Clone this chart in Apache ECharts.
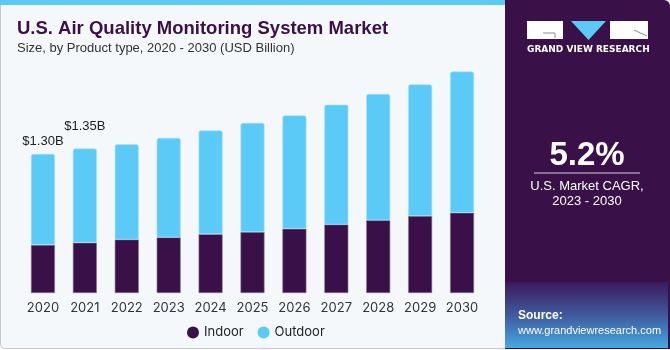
<!DOCTYPE html>
<html>
<head>
<meta charset="utf-8">
<script src="https://cdn.jsdelivr.net/npm/echarts@6/dist/echarts.min.js"></script>
<style>
  html, body { margin: 0; padding: 0; background: #fff; }
  #main { width: 670px; height: 350px; }
</style>
</head>
<body>
<div id="main"></div>
<script>
// data (USD Billion)
var years = ['2020', '2021', '2022', '2023', '2024', '2025', '2026', '2027', '2028', '2029', '2030'];
var indoor = [0.45, 0.47, 0.50, 0.52, 0.55, 0.57, 0.60, 0.64, 0.68, 0.72, 0.75];
var outdoor = [0.85, 0.88, 0.89, 0.93, 0.97, 1.02, 1.06, 1.12, 1.18, 1.23, 1.32];
var totalLabels = ['$1.30B', '$1.35B', '', '', '', '', '', '', '', '', ''];
var labelGap = [6, 16, 0, 0, 0, 0, 0, 0, 0, 0, 0];

var myChart = echarts.init(document.getElementById('main'));

var PURPLE = '#3a1048';
var BLUE = '#5ccaf7';

// outdoor series carries the total labels for the first two bars
var outdoorData = outdoor.map(function (v, i) {
  var item = { value: v };
  if (totalLabels[i]) {
    item.label = {
      show: true,
      position: 'top',
      distance: labelGap[i],
      formatter: totalLabels[i],
      color: '#222',
      fontSize: 13,
      fontFamily: 'Liberation Sans, Arial, sans-serif'
    };
  }
  return item;
});

myChart.setOption({
  backgroundColor: '#fff',
  animation: false,
  graphic: [
    // left panel background + border
    { type: 'rect', shape: { x: 0.5, y: 0.5, width: 520, height: 348, r: 4 }, style: { fill: '#f4f8fb', stroke: '#c8c8c8', lineWidth: 1 }, z: -10 },
    { type: 'rect', shape: { x: 0, y: 0, width: 510, height: 5 }, style: { fill: BLUE }, z: -9 },
    // right panel
    { type: 'rect', shape: { x: 505, y: 0, width: 165, height: 349, r: [0, 6, 0, 0] }, style: { fill: PURPLE }, z: -8 },
    {
      type: 'rect', shape: { x: 505, y: 282, width: 163, height: 66 }, z: -7,
      style: {
        fill: new echarts.graphic.LinearGradient(0, 0, 0, 1, [
          { offset: 0, color: '#3a1a5c' },
          { offset: 0.5, color: '#3f5a9c' },
          { offset: 1, color: '#46a8e2' }
        ])
      }
    },
    // logo
    { type: 'rect', shape: { x: 527, y: 21, width: 36, height: 18 }, style: { fill: '#fff' } },
    { type: 'polyline', shape: { points: [[543, 33], [555, 33], [555, 38]] }, style: { stroke: '#8a8a9a', lineWidth: 1, fill: null } },
    { type: 'polygon', shape: { points: [[571, 21], [606, 21], [588.5, 40]] }, style: { fill: BLUE } },
    { type: 'rect', shape: { x: 610, y: 21, width: 38, height: 18 }, style: { fill: '#fff' } },
    { type: 'line', shape: { x1: 634, y1: 30, x2: 647, y2: 36 }, style: { stroke: '#8a8a9a', lineWidth: 1 } },
    { type: 'text', left: 527, top: 45, style: { text: 'GRAND VIEW RESEARCH', fill: '#fff', font: 'bold 9px "DejaVu Sans", sans-serif' } },
    // CAGR
    { type: 'text', x: 587, y: 156, style: { text: '5.2%', fill: '#fff', font: 'bold 33px "Liberation Sans", Arial, sans-serif', align: 'center', verticalAlign: 'middle' } },
    { type: 'line', shape: { x1: 534, y1: 173, x2: 640, y2: 173 }, style: { stroke: '#d8d0e0', lineWidth: 1 } },
    { type: 'text', x: 587, y: 186, style: { text: 'U.S. Market CAGR,', fill: '#fff', font: '13px "Liberation Sans", Arial, sans-serif', align: 'center', verticalAlign: 'middle' } },
    { type: 'text', x: 587, y: 201, style: { text: '2023 - 2030', fill: '#fff', font: '13px "Liberation Sans", Arial, sans-serif', align: 'center', verticalAlign: 'middle' } },
    // source
    { type: 'text', x: 518, y: 316, style: { text: 'Source:', fill: '#fff', font: 'bold 12px "Liberation Sans", Arial, sans-serif', verticalAlign: 'middle' } },
    { type: 'text', x: 518, y: 331, style: { text: 'www.grandviewresearch.com', fill: '#fff', font: '11px "Liberation Sans", Arial, sans-serif', verticalAlign: 'middle' } },
    // title
    { type: 'text', x: 17, y: 29, style: { text: 'U.S. Air Quality Monitoring System Market', fill: PURPLE, font: 'bold 18.5px "Liberation Sans", Arial, sans-serif', verticalAlign: 'middle' } },
    { type: 'text', x: 17, y: 48, style: { text: 'Size, by Product type, 2020 - 2030 (USD Billion)', fill: '#333', font: '13px "Liberation Sans", Arial, sans-serif', verticalAlign: 'middle' } }
  ],
  grid: {
    left: 22,
    right: 187,
    top: 57.6,
    bottom: 57,
    containLabel: false
  },
  legend: {
    left: 182,
    top: 321,
    itemWidth: 12,
    itemHeight: 12,
    itemGap: 14,
    icon: 'circle',
    itemStyle: { borderWidth: 0 },
    data: ['Indoor', 'Outdoor'],
    textStyle: { color: '#222', fontSize: 13, fontFamily: 'Inter, "Liberation Sans", sans-serif' }
  },
  xAxis: {
    type: 'category',
    data: years,
    axisLine: { show: false },
    axisTick: { show: false },
    axisLabel: { interval: 0, color: '#333', fontSize: 13, margin: 9, fontFamily: 'Inter, "Liberation Sans", sans-serif' }
  },
  yAxis: {
    type: 'value',
    min: 0,
    max: 2.2,
    show: false,
    splitLine: { show: false }
  },
  series: [
    {
      name: 'Indoor',
      type: 'bar',
      stack: 'total',
      data: indoor,
      barWidth: 24,
      itemStyle: { color: PURPLE, borderColor: '#8a7a98', borderWidth: 0.6 }
    },
    {
      name: 'Outdoor',
      type: 'bar',
      stack: 'total',
      data: outdoorData,
      barWidth: 24,
      itemStyle: { color: BLUE, borderRadius: [2, 2, 0, 0], borderColor: '#a8e2fb', borderWidth: 0.6 }
    }
  ]
});
</script>
</body>
</html>
